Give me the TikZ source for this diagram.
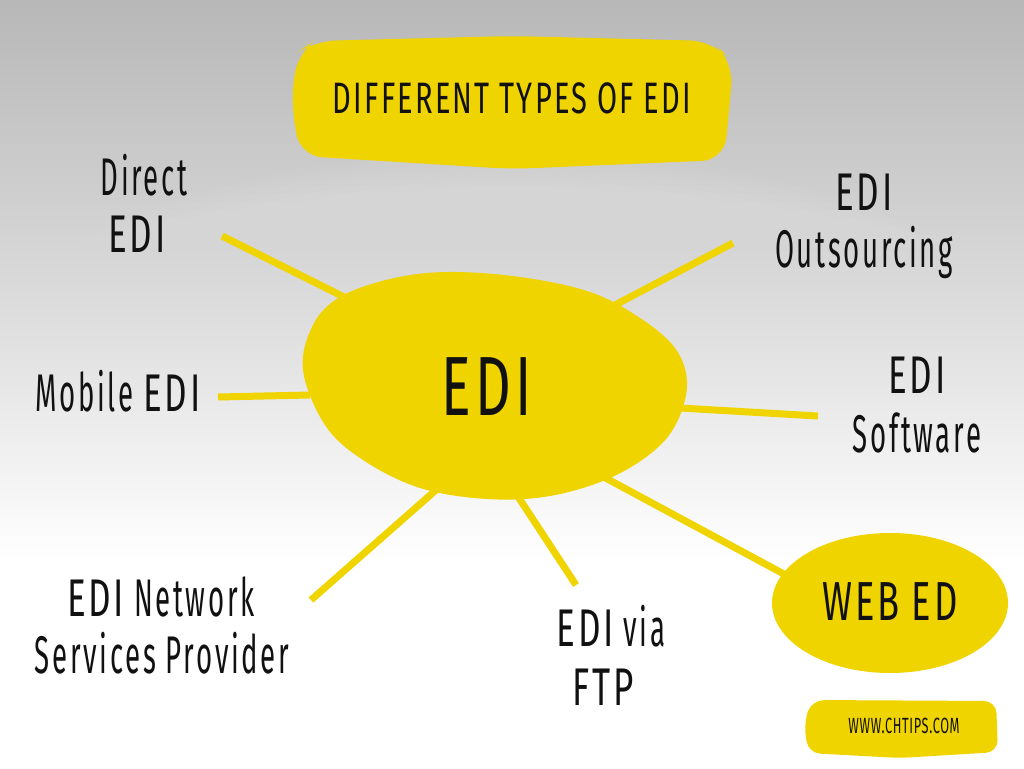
\documentclass[tikz,border=0pt]{standalone}
\usepackage{fontspec}
\setmainfont{Fira Sans}[FakeStretch=0.52,LetterSpace=5]
\newfontfamily\capsfont{Fira Sans}[FakeStretch=0.66,LetterSpace=5]
\newfontfamily\wwwfont{Fira Sans}[FakeStretch=0.58,LetterSpace=3]
\definecolor{edyellow}{HTML}{F0D400}
\definecolor{ink}{HTML}{111111}
\newcommand{\handsize}[1]{\fontsize{#1}{#1}\selectfont}
\pgfdeclareverticalshading{bgv}{100bp}{color(0bp)=(white); color(38.5bp)=(white); color(45.7bp)=(black!6); color(55.5bp)=(black!14); color(65.2bp)=(black!21); color(75bp)=(black!28); color(100bp)=(black!28)}
\tikzset{
  blob/.style={fill=edyellow, draw=none},
  spoke/.style={draw=edyellow, line width=7pt},
  lbl/.style={inner sep=0pt, anchor=base, text=ink, font=\handsize{53}},
  capslbl/.style={lbl, font=\capsfont\handsize{53}},
}
\begin{document}
\begin{tikzpicture}[x=1pt,y=-1pt]
\useasboundingbox (0,0) rectangle (1024,768);
% background
\shade[shading=bgv] (0,0) rectangle (1024,768);
\begin{scope}
\clip (0,0) rectangle (1024,768);
\foreach \i in {1,...,80}{
  \fill[white, opacity=0.025] (512,660) ellipse [x radius={9.4*\i}, y radius={6.4*\i}];
}
\end{scope}

% coordinates for spokes
\coordinate (dA) at (350,300); \coordinate (dB) at (222,236);
\coordinate (oA) at (615,305); \coordinate (oB) at (733,243);
\coordinate (mA) at (310,395); \coordinate (mB) at (218,397);
\coordinate (sA) at (680,408); \coordinate (sB) at (818,416);
\coordinate (wA) at (600,475); \coordinate (wB) at (795,580);
\coordinate (fA) at (515,492); \coordinate (fB) at (576,585);
\coordinate (nA) at (436,490); \coordinate (nB) at (311,600);

\draw[spoke] (dA) -- (dB);
\draw[spoke] (oA) -- (oB);
\draw[spoke] (mA) -- (mB);
\draw[spoke] (sA) -- (sB);
\draw[spoke] (wA) -- (wB);
\draw[spoke] (fA) -- (fB);
\draw[spoke] (nA) -- (nB);

% title blob
\fill[blob, rounded corners=22] (314,41) -- (512,36) -- (712,41) -- (733,62) -- (729,112) -- (724,160) -- (512,169) -- (300,156) -- (291,100) -- (298,52) -- cycle;
% central blob
\fill[blob] plot[smooth cycle, tension=0.6] coordinates {(303,370) (313,325) (340,297) (390,279) (447,272) (520,277) (590,292) (640,318) (675,348) (687,382) (678,420) (655,450) (610,478) (550,496) (487,499) (420,488) (363,460) (325,425)};
% web blob
\fill[blob] (890,603) ellipse [x radius=118, y radius=70];
% watermark blob
\fill[blob, rounded corners=12] (812,700) -- (996,701) -- (998,752) -- (900,758) -- (808,753) -- (804,722) -- cycle;

\node[capslbl, font=\capsfont\handsize{44}] (title) at (512,113) {DIFFERENT TYPES OF EDI};
\node[capslbl, font=\capsfont\handsize{84}] (edi) at (487,415) {EDI};
\node[lbl] (direct1) at (144,195) {Direct};
\node[capslbl] (direct2) at (137,252) {EDI};
\node[lbl] (mobile) at (118,411) {Mobile {\capsfont EDI}};
\node[capslbl] (outs1) at (864,210) {EDI};
\node[lbl] (outs2) at (864,267) {Outsourcing};
\node[capslbl] (soft1) at (917,393) {EDI};
\node[lbl] (soft2) at (917,452) {Software};
\node[capslbl, font=\capsfont\handsize{55}] (web) at (890,620) {WEB ED};
\node[lbl] (ftp1) at (611,646) {{\capsfont EDI} via};
\node[capslbl] (ftp2) at (603,705) {FTP};
\node[lbl] (net1) at (161,616) {{\capsfont EDI} Network};
\node[lbl] (net2) at (162,673) {Services Provider};
\node[lbl, font=\wwwfont\handsize{22}] (www) at (904,733) {WWW.CHTIPS.COM};
\end{tikzpicture}
\end{document}
